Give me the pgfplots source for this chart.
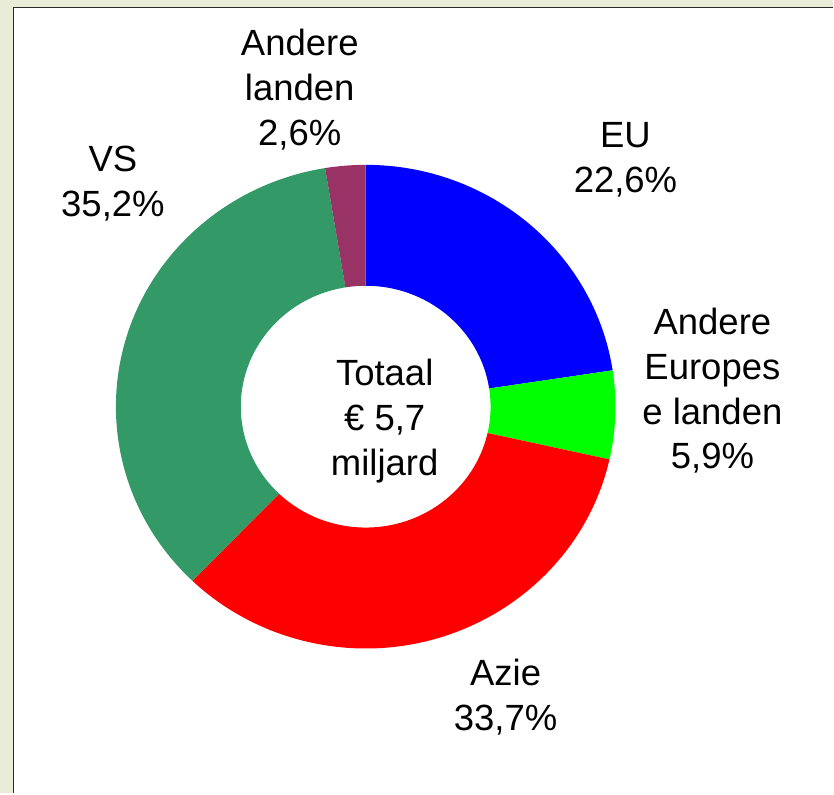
\documentclass[border=0pt]{standalone}
\usepackage{pgfplots}
\usepackage{pgfplotstable}
\pgfplotsset{compat=1.18}
\usepackage{fontspec}
\setmainfont{Liberation Sans}

\definecolor{bgcream}{RGB}{233,236,214}
\definecolor{frameline}{RGB}{40,44,40}
\definecolor{slice0}{RGB}{0,0,255}
\definecolor{slice1}{RGB}{0,255,0}
\definecolor{slice2}{RGB}{255,0,0}
\definecolor{slice3}{RGB}{51,153,102}
\definecolor{slice4}{RGB}{153,51,102}

\begin{document}
\begin{tikzpicture}
% share of each region, clockwise from the top
\pgfplotstableread[col sep=comma]{
name,pct
EU,22.6
AndereEuropese,5.9
Azie,33.7
VS,35.2
AndereLanden,2.6
}\donut

% start/end angles of every slice
\gdef\cumulative{0}
\foreach \i in {0,...,4}{
  \pgfplotstablegetelem{\i}{pct}\of\donut
  \pgfmathsetmacro\a{90-3.6*\cumulative}
  \pgfmathsetmacro\c{\cumulative+\pgfplotsretval}
  \pgfmathsetmacro\b{90-3.6*\c}
  \expandafter\xdef\csname sa\i\endcsname{\a}
  \expandafter\xdef\csname sb\i\endcsname{\b}
  \xdef\cumulative{\c}
}

\begin{axis}[
    x=1pt, y=1pt,
    xmin=0, xmax=834, ymin=0, ymax=794,
    hide axis,
    clip=false,
  ]
  \fill[bgcream] (axis cs:0,0) rectangle (axis cs:834,794);
  \fill[white] (axis cs:13.5,0) rectangle (axis cs:834,786.5);
  \draw[frameline, line width=1.4pt] (axis cs:13.5,0) -- (axis cs:13.5,786.5) -- (axis cs:834,786.5);

  \pgfplotsinvokeforeach{0,...,4}{
    \fill[slice#1] (axis cs:366,387) ++(\csname sa#1\endcsname:250pt and 242pt)
      arc[start angle=\csname sa#1\endcsname, end angle=\csname sb#1\endcsname, x radius=250pt, y radius=242pt]
      -- ++(\csname sb#1\endcsname:-125pt and -121pt)
      arc[start angle=\csname sb#1\endcsname, end angle=\csname sa#1\endcsname, x radius=125pt, y radius=121pt]
      -- cycle;
  }

  \begin{scope}[every node/.style={align=center, inner sep=0pt,
      font=\fontsize{36.5}{45}\selectfont}]
    \node at (axis cs:626,634) {EU\\22,6\%};
    \node at (axis cs:713,403) {Andere\\Europes\\e landen\\5,9\%};
    \node at (axis cs:506,96) {Azie\\33,7\%};
    \node at (axis cs:113,610) {VS\\35,2\%};
    \node at (axis cs:300,704) {Andere\\landen\\2,6\%};
    \node at (axis cs:385,373) {Totaal\\€ 5,7\\miljard};
  \end{scope}
\end{axis}
\end{tikzpicture}
\end{document}
